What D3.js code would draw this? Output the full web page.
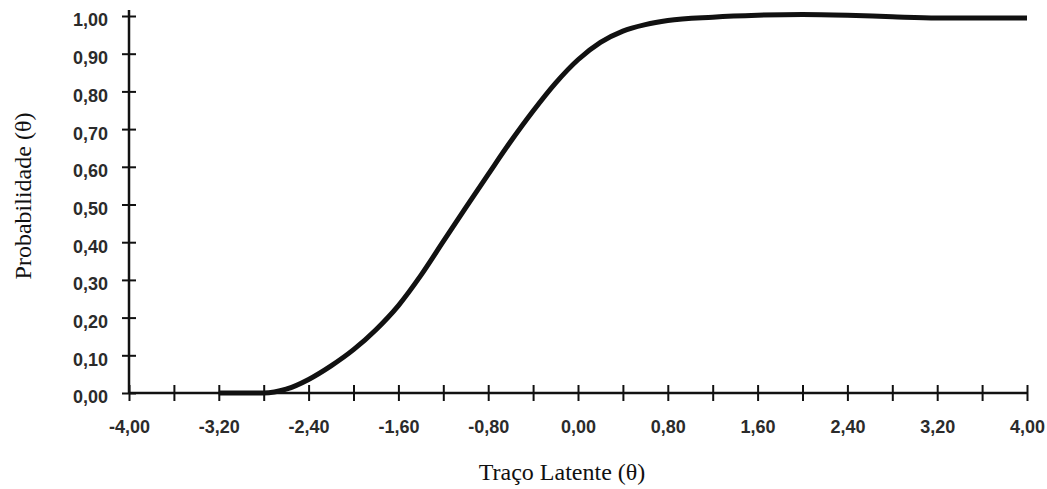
<!DOCTYPE html>
<head>
    <meta charset="utf-8">
    <script src="https://d3js.org/d3.v7.min.js"></script>
    <style>
        body {
            margin: 0;
            background: white;
        }
        .title {
            font-family: "Liberation Serif", "Times New Roman", serif;
            font-size: 24px;
            fill: #111;
        }
    </style>
</head>

<body>
<svg id="graph" width=1047 height=489></svg>
<script>

    // curva característica do item
    const theta = [-3.2, -2.8, -2.6, -2.4, -2.2, -2.0, -1.8, -1.6, -1.4, -1.2, -1.0, -0.8, -0.6, -0.4, -0.2,
        0.0, 0.2, 0.4, 0.6, 0.8, 1.2, 1.6, 2.0, 2.4, 2.8, 3.2, 3.6, 4.0];
    const prob = [0.000, 0.000, 0.010, 0.036, 0.072, 0.115, 0.168, 0.232, 0.312, 0.402, 0.492, 0.580, 0.667, 0.748, 0.822,
        0.884, 0.930, 0.960, 0.977, 0.988, 0.997, 1.002, 1.004, 1.002, 0.998, 0.995, 0.995, 0.995];

    const xTicks = d3.range(-4, 4.001, 0.4);
    const yTicks = d3.range(0, 1.001, 0.1);
    const xLabelEvery = 2;

    const margin = {top: 16, left: 129, right: 20, bottom: 96};
    const width = 1027 - margin.left,
        height = 393 - margin.top;

    const svg = d3.select("#graph");

    const x = d3.scaleLinear().domain([-4, 4]).range([margin.left, margin.left + width]);
    const y = d3.scaleLinear().domain([0, 1]).range([margin.top + height, margin.top]);

    const fmt = d => d3.format(".2f")(d).replace(".", ",").replace("−", "-");

    const xAxis = d3.axisBottom(x)
        .tickValues(xTicks)
        .tickSize(7)
        .tickPadding(20)
        .tickFormat((d, i) => i % xLabelEvery === 0 ? fmt(d) : "");

    const yAxis = d3.axisLeft(y)
        .tickValues(yTicks)
        .tickSize(7)
        .tickPadding(14)
        .tickFormat(fmt);

    const gx = svg.append("g")
        .attr("transform", "translate(0," + y(0) + ")")
        .call(xAxis);

    const gy = svg.append("g")
        .attr("transform", "translate(" + x(-4) + ",0)")
        .call(yAxis);

    svg.selectAll(".tick text")
        .attr("font-family", "'Liberation Sans', Arial, sans-serif")
        .attr("font-weight", "bold")
        .attr("font-size", 18)
        .attr("fill", "#2b2b2b");
    gy.selectAll(".tick text").attr("dy", "0.55em");

    // marcas atravessando o eixo
    gx.selectAll(".tick line").attr("y1", -8).attr("y2", 8).attr("stroke", "#111").attr("stroke-width", 2);
    gy.selectAll(".tick line").attr("x1", -7).attr("x2", 7).attr("stroke", "#111").attr("stroke-width", 2);
    gx.select(".domain").attr("d", "M" + x(-4) + ",0H" + x(4)).attr("stroke", "#111").attr("stroke-width", 2.5);
    gy.select(".domain").attr("d", "M0," + y(0) + "V" + (y(1) - 6)).attr("stroke", "#111").attr("stroke-width", 2.5);

    const line = d3.line()
        .x((d, i) => x(d))
        .y((d, i) => y(prob[i]))
        .curve(d3.curveMonotoneX);

    svg.append("path")
        .datum(theta)
        .attr("d", line)
        .attr("fill", "none")
        .attr("stroke", "#111")
        .attr("stroke-width", 5);

    svg.append("text")
        .attr("class", "title")
        .attr("x", 562)
        .attr("y", 480)
        .style("text-anchor", "middle")
        .text("Traço Latente (θ)");

    svg.append("text")
        .attr("class", "title")
        .attr("transform", "translate(31,196) rotate(-90)")
        .style("text-anchor", "middle")
        .text("Probabilidade (θ)");

</script>

</body>
